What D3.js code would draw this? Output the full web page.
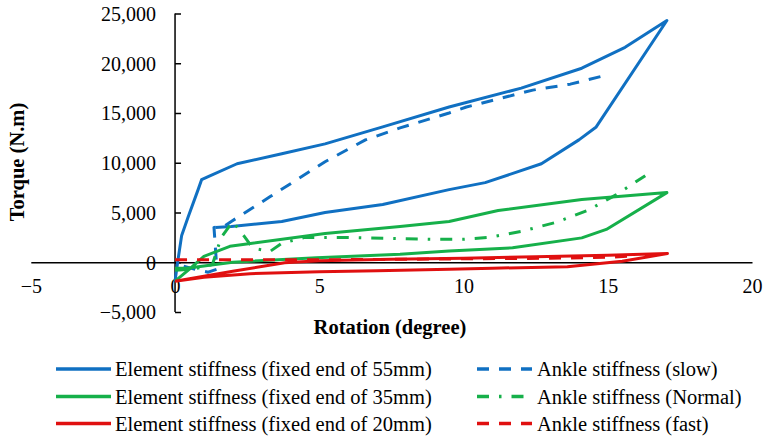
<!DOCTYPE html>
<html>
<head>
<meta charset="utf-8">
<script src="https://cdn.jsdelivr.net/npm/d3@7"></script>
<style>
  html, body { margin: 0; padding: 0; background: #fff; }
</style>
</head>
<body>
<svg id="chart" width="771" height="440"></svg>
<script>
// ---------- data ----------
const xTicks = [-5, 0, 5, 10, 15, 20];
const yTicks = [-5000, 0, 5000, 10000, 15000, 20000, 25000];

const el55X = [0, 0.1, 0.23, 0.46, 0.8, 0.92, 1.15, 2.15, 3.7, 5.2, 7.2, 9.5, 12.0, 14.1, 15.6, 17.05, 14.6, 14.0, 12.7, 10.75, 9.5, 7.2, 5.2, 3.7, 1.95, 1.4];
const el55Y = [-1900, 200, 2700, 4600, 7300, 8300, 8600, 9900, 10900, 11900, 13600, 15600, 17500, 19500, 21600, 24300, 13600, 12300, 9900, 8000, 7300, 5800, 5000, 4100, 3600, 3500];

const slowX = [0.3, 0.8, 1.15, 1.45, 1.35, 1.7, 1.95, 3.3, 5.2, 6.6, 7.8, 9.5, 10.1, 12.4, 13.7, 14.95];
const slowY = [-400, -800, -1000, -700, 3500, 3600, 4100, 6600, 10100, 12300, 13500, 15000, 15600, 17300, 17900, 18800];

const el35X = [0, 0.5, 1.0, 1.9, 5.2, 7.8, 9.5, 11.2, 14.1, 17.05, 14.95, 14.1, 11.7, 9.5, 7.8, 4.9, 2.0, 1.2, 0.4, 0];
const el35Y = [-1900, -700, 600, 1600, 2900, 3600, 4100, 5200, 6300, 7000, 3300, 2450, 1450, 1130, 800, 450, 0, -300, -600, -600];

const normX = [0, 0.5, 1.0, 1.3, 1.6, 2.0, 2.4, 2.7, 3.3, 3.7, 4.5, 6.0, 7.4, 9.0, 10.0, 10.9, 12.0, 13.2, 14.3, 15.3, 16.3];
const normY = [-800, -700, -500, -200, 2500, 4100, 2600, 1400, 1100, 1900, 2500, 2500, 2400, 2300, 2300, 2500, 3100, 4000, 5200, 6800, 8700];

const el20X = [0, 1, 2, 3.8, 5, 7.5, 10, 12.5, 15, 17.07, 15.5, 13.6, 11, 9.5, 7, 5, 2.6, 1, 0];
const el20Y = [-1900, -1400, -900, -50, 150, 300, 400, 550, 700, 870, 100, -450, -600, -700, -850, -950, -1150, -1500, -1900];

const fastX = [0, 2, 5, 8, 10, 13, 15, 16];
const fastY = [250, 250, 250, 300, 350, 400, 500, 650];

const seriesNames = [
  "Element stiffness (fixed end of 55mm)",
  "Ankle stiffness (slow)",
  "Element stiffness (fixed end of 35mm)",
  "Ankle stiffness (Normal)",
  "Element stiffness (fixed end of 20mm)",
  "Ankle stiffness (fast)"
];
const seriesColors = ["#1070C2", "#1070C2", "#16B04A", "#16B04A", "#E01010", "#E01010"];
const seriesDash = [null, "12,10", null, "12,10,2.5,10", null, "12,10"];
const seriesData = [[el55X, el55Y], [slowX, slowY], [el35X, el35Y], [normX, normY], [el20X, el20Y], [fastX, fastY]];

const FONT = "'Liberation Serif', 'Times New Roman', Times, 'DejaVu Serif', serif";

// ---------- chart ----------
const svg = d3.select("#chart");
const x = d3.scaleLinear().domain([-5, 20]).range([30.8, 752]);
const y = d3.scaleLinear().domain([-5000, 25000]).range([312, 13.5]);

// x axis at y=0
const xAxis = svg.append("g").attr("transform", `translate(0,${y(0)})`)
  .call(d3.axisBottom(x).tickValues(xTicks).tickSize(0).tickFormat(d3.format("d")));
xAxis.attr("font-family", FONT);
xAxis.select(".domain").attr("stroke", "#000").attr("stroke-width", 1.5);
xAxis.selectAll("text").attr("font-family", FONT).attr("font-size", 20).attr("dy", null).attr("y", 31).attr("fill", "#000");

// y axis at x=0
const yAxis = svg.append("g").attr("transform", `translate(${x(0)},0)`)
  .call(d3.axisRight(y).tickValues(yTicks).tickSize(6).tickFormat(d3.format(",")));
yAxis.attr("font-family", FONT);
yAxis.select(".domain").attr("stroke", "#000").attr("stroke-width", 1.5)
  .attr("d", `M0,${y(-5000)}V${y(25000)}`);
yAxis.selectAll(".tick line").attr("stroke", "#000").attr("stroke-width", 1.5);
yAxis.selectAll("text").attr("font-family", FONT).attr("font-size", 20).attr("x", -19)
  .attr("text-anchor", "end").attr("dy", "0.34em").attr("fill", "#000");

// axis titles
svg.append("text").attr("x", 390).attr("y", 334).attr("text-anchor", "middle")
  .attr("font-family", FONT).attr("font-size", 20.5).attr("font-weight", "bold").text("Rotation (degree)");
svg.append("text").attr("transform", "translate(24,162) rotate(-90)").attr("text-anchor", "middle")
  .attr("font-family", FONT).attr("font-size", 20.5).attr("font-weight", "bold").text("Torque (N.m)");

// series
const line = d3.line().x(d => x(d[0])).y(d => y(d[1]));
seriesData.forEach((s, i) => {
  const pts = s[0].map((v, k) => [v, s[1][k]]);
  svg.append("path").datum(pts).attr("d", line)
    .attr("fill", "none").attr("stroke", seriesColors[i]).attr("stroke-width", 3)
    .attr("stroke-linejoin", "round")
    .attr("stroke-dasharray", seriesDash[i]);
});

// legend
const legCols = [{lx: 56, tx: 115}, {lx: 477, tx: 537}];
const legRows = [369, 396.5, 423.5];
seriesNames.forEach((name, i) => {
  const col = legCols[i % 2], row = legRows[Math.floor(i / 2)];
  const g = svg.append("g");
  g.append("line").attr("x1", col.lx).attr("x2", col.lx + 55).attr("y1", row).attr("y2", row)
    .attr("stroke", seriesColors[i]).attr("stroke-width", 3.5)
    .attr("stroke-dasharray", seriesDash[i]);
  g.append("text").attr("x", col.tx).attr("y", row).attr("dy", "0.35em")
    .attr("font-family", FONT).attr("font-size", 20.5).attr("fill", "#000").text(name);
});
</script>
</body>
</html>
